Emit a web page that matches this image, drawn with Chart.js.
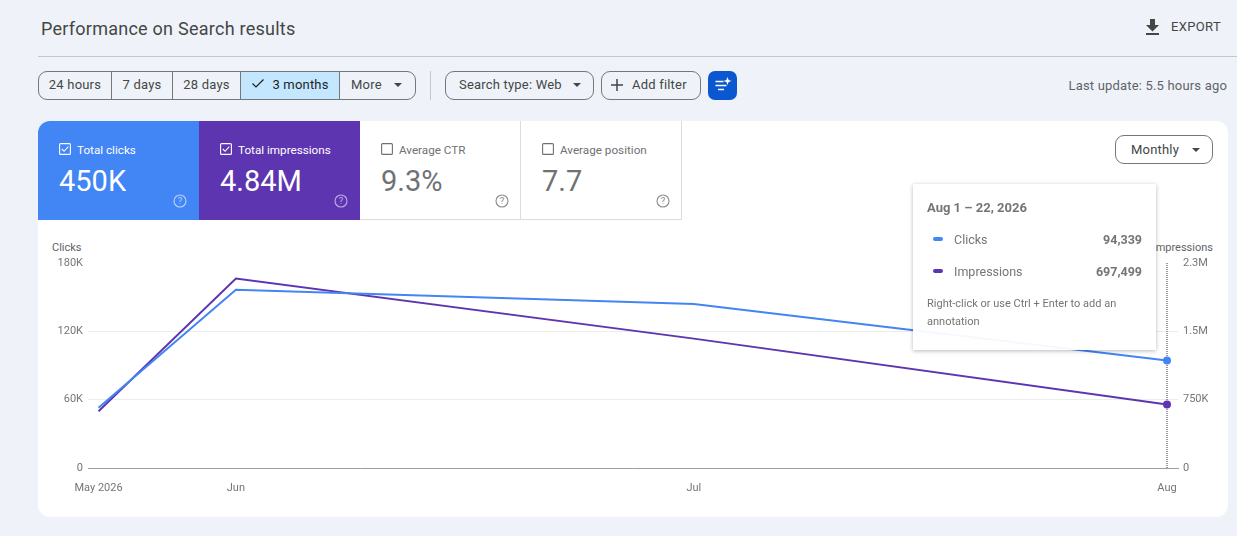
<!DOCTYPE html>
<html>
<head>
<meta charset="utf-8">
<title>Performance on Search results</title>
<script src="https://cdn.jsdelivr.net/npm/chart.js@4"></script>
<style>
html, body { margin: 0; padding: 0; }
body { width: 1237px; height: 536px; position: relative; overflow: hidden; background: #eff3f9; font-family: Roboto, sans-serif; color: #444746; }
.abs { position: absolute; white-space: nowrap; }
.title { left: 41px; top: 17px; font-size: 18px; line-height: 24px; color: #444746; letter-spacing: .25px; }
.rule { left: 38px; top: 56px; width: 1199px; height: 1px; background: #c4c7c5; }
.export { left: 1171px; top: 19px; font-size: 13px; line-height: 16px; color: #444746; letter-spacing: .35px; }
.group { left: 38px; top: 71px; width: 376px; height: 27px; border: 1px solid #747775; border-radius: 9px; overflow: hidden; display: flex; }
.group div { box-sizing: border-box; height: 27px; line-height: 26px; font-size: 13px; letter-spacing: .2px; border-right: 1px solid #747775; text-align: center; color: #444746; }
.group div:last-child { border-right: 0; }
.group .on { background: #c2e7ff; color: #1f1f1f; }
.pill { top: 71px; height: 27px; line-height: 26px; border: 1px solid #747775; border-radius: 9px; font-size: 13px; letter-spacing: .2px; color: #444746; box-sizing: content-box; }
.arrow { display: inline-block; width: 0; height: 0; border-left: 4px solid transparent; border-right: 4px solid transparent; border-top: 4px solid #444746; vertical-align: 2px; }
.vsep { left: 430px; top: 71px; width: 1px; height: 29px; background: #c4c7c5; }
.ai { left: 708px; top: 71px; width: 29px; height: 29px; border-radius: 7px; background: #0b57d0; }
.update { right: 10px; top: 78px; font-size: 13px; line-height: 16px; color: #5f6368; letter-spacing: .18px; }
.card { left: 38px; top: 121px; width: 1190px; height: 396px; background: #fff; border-radius: 12px; }
.score { top: 121px; width: 161px; height: 99px; box-sizing: border-box; }
.score.blue { left: 38px; background: #4285f4; color: #fff; border-top-left-radius: 12px; }
.score.purple { left: 199px; background: #5e35b1; color: #fff; }
.score.off { background: #fff; color: #6f7173; border-right: 1px solid #dadce0; border-bottom: 1px solid #dadce0; }
.score svg.box { position: absolute; left: 21px; top: 22px; }
.score .name { position: absolute; left: 39px; top: 21px; font-size: 11.7px; line-height: 16px; }
.score .num { position: absolute; left: 21px; top: 42px; font-size: 29px; line-height: 36px; }
.score svg.help { position: absolute; left: 135px; top: 73px; }
.monthly { left: 1115px; top: 135px; width: 96px; height: 27px; line-height: 28px; border: 1px solid #747775; border-radius: 9px; font-size: 13px; letter-spacing: .2px; color: #444746; }
#wrap { position: absolute; left: 38px; top: 225px; width: 1190px; height: 285px; }
.axis-name { font-size: 11px; line-height: 14px; color: #5f6368; top: 241px; }
.tip { left: 913px; top: 184px; width: 243px; height: 166px; background: rgba(255,255,255,.95); box-shadow: 0 1px 4px rgba(0,0,0,.28); color: #757575; white-space: normal; }
.tip .date { position: absolute; left: 14px; top: 16px; font-size: 13px; line-height: 16px; font-weight: 700; }
.tip .key { position: absolute; left: 41px; font-size: 12.5px; line-height: 16px; }
.tip .val { position: absolute; right: 14px; font-size: 12.5px; line-height: 16px; font-weight: 700; }
.tip .dash { position: absolute; left: 20px; width: 10px; height: 4px; border-radius: 2px; }
.tip .hint { position: absolute; left: 14px; top: 111px; width: 215px; font-size: 11px; line-height: 18px; }
</style>
</head>
<body>
<div class="abs title">Performance on Search results</div>
<svg class="abs" style="left:1144px;top:17px" width="18" height="19" viewBox="0 0 18 19"><path d="M6 2h5v6h4l-6.500 6.500L2 8h4zM2 16h13v2H2z" fill="#444746"/></svg>
<div class="abs export">EXPORT</div>
<div class="abs rule"></div>

<div class="abs group">
  <div style="width:73px">24 hours</div>
  <div style="width:61px">7 days</div>
  <div style="width:68px">28 days</div>
  <div class="on" style="width:99px"><svg width="14" height="11" viewBox="0 0 14 11" style="margin-right:7px"><path d="M1.500 5.500l3.500 3.500 7.500-7.500" fill="none" stroke="#1f1f1f" stroke-width="1.200"/></svg>3 months</div>
  <div style="width:75px;text-align:left;padding-left:11px">More<span class="arrow" style="margin-left:12px"></span></div>
</div>
<div class="abs vsep"></div>
<div class="abs pill" style="left:445px;width:147px;padding:0"><span style="margin-left:13px">Search type: Web</span><span class="arrow" style="margin-left:11px"></span></div>
<div class="abs pill" style="left:601px;width:98px;padding:0">
  <svg width="14" height="14" viewBox="0 0 14 14" style="position:absolute;left:8px;top:6px"><path d="M7 1v12M1 7h12" stroke="#444746" stroke-width="1.500"/></svg>
  <span style="margin-left:30px">Add filter</span></div>
<div class="abs ai"><svg width="29" height="29" viewBox="0 0 29 29"><path d="M7.500 10.500h8M7.500 14.500h11M10 18.500h6" stroke="#fff" stroke-width="1.500"/><path d="M19.500 6l1.100 2.900 2.900 1.100-2.900 1.100-1.100 2.900-1.100-2.900-2.900-1.100 2.900-1.100z" fill="#fff"/></svg></div>
<div class="abs update">Last update: 5.5 hours ago</div>

<div class="abs card"></div>

<div class="abs score blue">
  <svg class="box" width="12" height="12" viewBox="0 0 12 12"><rect x=".6" y=".6" width="10.800" height="10.800" rx="1" fill="none" stroke="#fff" stroke-width="1.100"/><path d="M2.800 6l2.300 2.300 4.200-4.600" fill="none" stroke="#fff" stroke-width="1.100"/></svg>
  <div class="name">Total clicks</div><div class="num">450K</div>
  <svg class="help" width="14" height="14" viewBox="0 0 14 14"><circle cx="7" cy="7" r="6" fill="none" stroke="#b9d0fa" stroke-width="1.100"/><text x="7" y="10.200" text-anchor="middle" font-size="9.500" fill="#b9d0fa" font-family="Roboto">?</text></svg>
</div>
<div class="abs score purple">
  <svg class="box" width="12" height="12" viewBox="0 0 12 12"><rect x=".6" y=".6" width="10.800" height="10.800" rx="1" fill="none" stroke="#fff" stroke-width="1.100"/><path d="M2.800 6l2.300 2.300 4.200-4.600" fill="none" stroke="#fff" stroke-width="1.100"/></svg>
  <div class="name">Total impressions</div><div class="num">4.84M</div>
  <svg class="help" width="14" height="14" viewBox="0 0 14 14"><circle cx="7" cy="7" r="6" fill="none" stroke="#bfaee0" stroke-width="1.100"/><text x="7" y="10.200" text-anchor="middle" font-size="9.500" fill="#bfaee0" font-family="Roboto">?</text></svg>
</div>
<div class="abs score off" style="left:360px">
  <svg class="box" width="12" height="12" viewBox="0 0 12 12"><rect x=".6" y=".6" width="10.800" height="10.800" rx="1" fill="none" stroke="#6f7173" stroke-width="1.100"/></svg>
  <div class="name">Average CTR</div><div class="num">9.3%</div>
  <svg class="help" width="14" height="14" viewBox="0 0 14 14"><circle cx="7" cy="7" r="6" fill="none" stroke="#8a8c8e" stroke-width="1.100"/><text x="7" y="10.200" text-anchor="middle" font-size="9.500" fill="#8a8c8e" font-family="Roboto">?</text></svg>
</div>
<div class="abs score off" style="left:521px">
  <svg class="box" width="12" height="12" viewBox="0 0 12 12"><rect x=".6" y=".6" width="10.800" height="10.800" rx="1" fill="none" stroke="#6f7173" stroke-width="1.100"/></svg>
  <div class="name">Average position</div><div class="num">7.7</div>
  <svg class="help" width="14" height="14" viewBox="0 0 14 14"><circle cx="7" cy="7" r="6" fill="none" stroke="#8a8c8e" stroke-width="1.100"/><text x="7" y="10.200" text-anchor="middle" font-size="9.500" fill="#8a8c8e" font-family="Roboto">?</text></svg>
</div>
<div class="abs monthly"><span style="margin-left:15px">Monthly</span><span class="arrow" style="margin-left:13px"></span></div>

<div class="abs axis-name" style="left:52px">Clicks</div>
<div class="abs axis-name" style="right:24px">Impressions</div>
<div id="wrap"><canvas id="chart"></canvas></div>

<div class="abs tip">
  <div class="date">Aug 1 – 22, 2026</div>
  <div class="dash" style="top:53px;background:#4285f4"></div>
  <div class="key" style="top:48px">Clicks</div>
  <div class="val" style="top:48px" id="tipClicks"></div>
  <div class="dash" style="top:85px;background:#5e35b1"></div>
  <div class="key" style="top:80px">Impressions</div>
  <div class="val" style="top:80px" id="tipImpr"></div>
  <div class="hint">Right-click or use Ctrl + Enter to add an annotation</div>
</div>

<script>
// day of the year each monthly point sits on, so the gaps follow the calendar
const days = [143, 152, 182, 213];
const dayLabels = ['May 2026', 'Jun', 'Jul', 'Aug'];
const clicks = [53000, 156500, 144000, 94339];
const impressions = [622000, 2080000, 1420000, 697499];

const clickTicks = [0, 60000, 120000, 180000];
const clickTickLabels = ['0', '60K', '120K', '180K'];
const imprTicks = [0, 750000, 1500000, 2250000];
const imprTickLabels = ['0', '750K', '1.5M', '2.3M'];

const tickColor = '#757575';
const tickFont = { family: 'Roboto', size: 11 };
const last = days.length - 1;

document.getElementById('tipClicks').textContent = clicks[last].toLocaleString('en-US');
document.getElementById('tipImpr').textContent = impressions[last].toLocaleString('en-US');

function points(values) {
    return values.map((v, i) => ({ x: days[i], y: v }));
}

function fixedTicks(values) {
    return axis => { axis.ticks = values.map(v => ({ value: v })); };
}

// dotted hover line at the selected month
const hoverLine = {
    id: 'hoverLine',
    beforeDatasetsDraw(chart) {
        const { ctx, chartArea, scales } = chart;
        const x = scales.x.getPixelForValue(days[last]);
        ctx.save();
        ctx.strokeStyle = '#7d7d7d';
        ctx.lineWidth = 1.5;
        ctx.setLineDash([1, 1]);
        ctx.beginPath();
        ctx.moveTo(x, chartArea.top);
        ctx.lineTo(x, chartArea.bottom);
        ctx.stroke();
        ctx.restore();
    }
};

new Chart(document.getElementById('chart'), {
    type: 'line',
    data: {
        datasets: [
            {
                label: 'Clicks',
                data: points(clicks),
                yAxisID: 'y',
                borderColor: '#4285f4',
                backgroundColor: '#4285f4',
                borderWidth: 2,
                pointRadius: ctx => ctx.dataIndex === last ? 3 : 0,
                tension: 0
            },
            {
                label: 'Impressions',
                data: points(impressions),
                yAxisID: 'y2',
                borderColor: '#5e35b1',
                backgroundColor: '#5e35b1',
                borderWidth: 2,
                pointRadius: ctx => ctx.dataIndex === last ? 3 : 0,
                tension: 0
            }
        ]
    },
    options: {
        responsive: true,
        maintainAspectRatio: false,
        animation: false,
        layout: { padding: { top: 38 } },
        plugins: { legend: { display: false }, tooltip: { enabled: false } },
        scales: {
            x: {
                type: 'linear',
                min: 142.31,
                max: 213.72,
                afterBuildTicks: fixedTicks(days),
                afterFit: axis => { axis.height = 42; },
                grid: { display: false },
                border: { color: '#9e9e9e', width: 1 },
                ticks: {
                    autoSkip: false,
                    maxRotation: 0,
                    padding: 6,
                    color: tickColor,
                    font: tickFont,
                    callback: v => dayLabels[days.indexOf(v)]
                }
            },
            y: {
                position: 'left',
                min: 0,
                max: 180000,
                afterBuildTicks: fixedTicks(clickTicks),
                afterFit: axis => { axis.width = 50; },
                border: { display: false },
                grid: {
                    drawTicks: false,
                    color: ctx => (ctx.tick.value === 60000 || ctx.tick.value === 120000) ? '#ececec' : 'transparent'
                },
                ticks: {
                    padding: 5,
                    color: tickColor,
                    font: tickFont,
                    callback: v => clickTickLabels[clickTicks.indexOf(v)]
                }
            },
            y2: {
                position: 'right',
                min: 0,
                max: 2250000,
                afterBuildTicks: fixedTicks(imprTicks),
                afterFit: axis => { axis.width = 50; },
                border: { display: false },
                grid: { display: false, drawTicks: false },
                ticks: {
                    padding: 5,
                    color: tickColor,
                    font: tickFont,
                    callback: v => imprTickLabels[imprTicks.indexOf(v)]
                }
            }
        }
    },
    plugins: [hoverLine]
});
</script>
</body>
</html>
